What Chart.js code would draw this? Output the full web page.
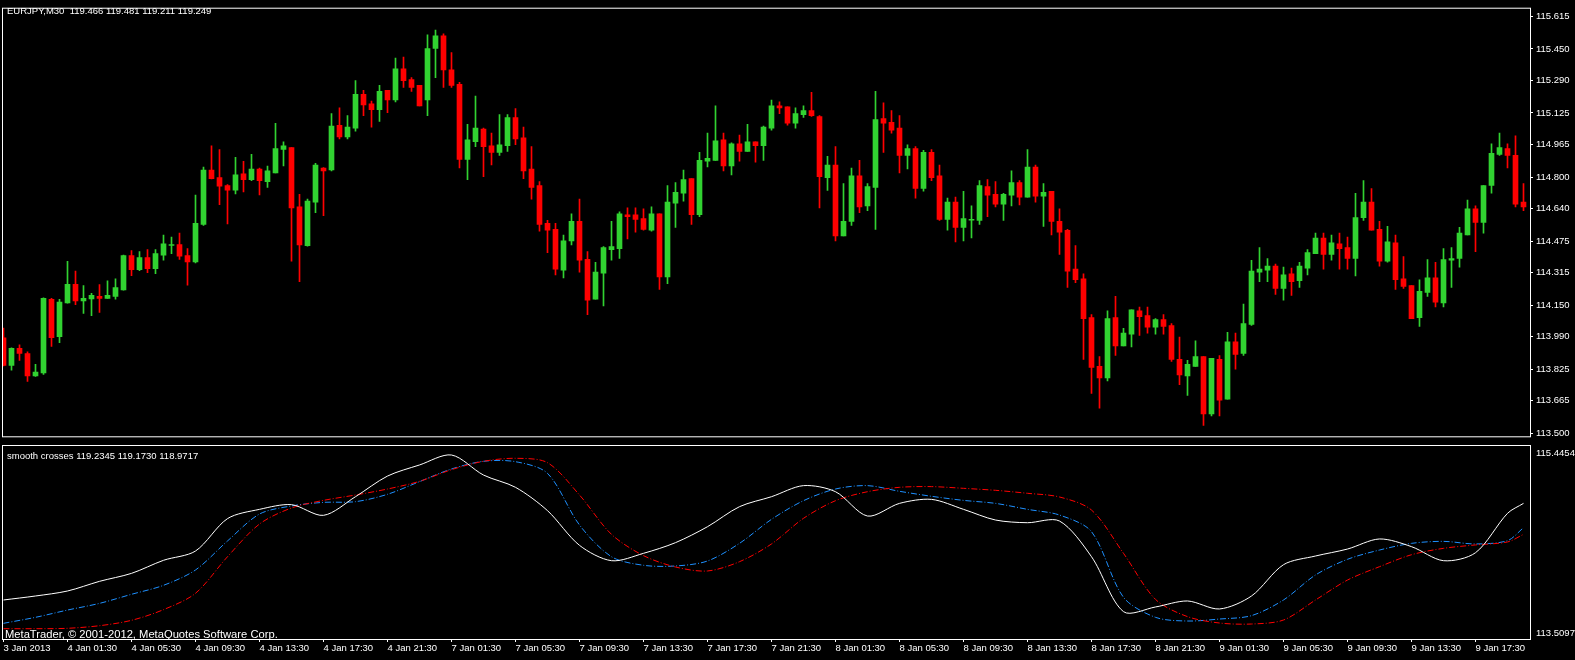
<!DOCTYPE html>
<html>
<head>
<meta charset="utf-8">
<title>EURJPY,M30</title>
<script src="https://cdn.jsdelivr.net/npm/chart.js@4.4.1/dist/chart.umd.min.js"></script>
<style>
    html, body { margin: 0; padding: 0; background: #000; overflow: hidden; }
    #wrap { position: relative; width: 1575px; height: 660px; background: #000; }
    #priceChart { position: absolute; left: 0; top: 0; }
    #indChart { position: absolute; left: 0; top: 444px; }
</style>
</head>
<body>
<div id="wrap">
    <canvas id="priceChart" width="1575" height="445"></canvas>
    <canvas id="indChart" width="1575" height="216"></canvas>
</div>
<script>
// Candles, one per 30 minute bar (bar index = position in array)
const candleOpen = [
    113.985, 113.845, 113.931, 113.904, 113.791, 113.807, 114.180, 113.990, 114.162, 114.256,
    114.172, 114.182, 114.195, 114.185, 114.195, 114.228, 114.402, 114.330, 114.392, 114.335,
    114.404, 114.453, 114.457, 114.402, 114.369, 114.560, 114.836, 114.797, 114.757, 114.734,
    114.816, 114.787, 114.841, 114.777, 114.821, 114.940, 114.949, 114.649, 114.452, 114.673,
    114.846, 114.836, 115.063, 115.004, 115.048, 115.220, 115.171, 115.142, 115.240, 115.191,
    115.349, 115.294, 115.265, 115.191, 115.452, 115.516, 115.344, 115.270, 114.890, 114.979,
    115.043, 114.959, 114.925, 114.959, 115.102, 114.999, 114.841, 114.757, 114.565, 114.535,
    114.328, 114.476, 114.575, 114.383, 114.180, 114.313, 114.432, 114.437, 114.609, 114.609,
    114.590, 114.530, 114.614, 114.294, 114.668, 114.718, 114.792, 114.609, 114.880, 114.885,
    114.989, 114.856, 114.969, 114.930, 114.979, 114.959, 115.048, 115.161, 115.156, 115.073,
    115.117, 115.137, 115.107, 114.797, 114.861, 114.501, 114.575, 114.806, 114.654, 114.747,
    115.097, 115.078, 115.048, 114.910, 114.944, 114.742, 114.925, 114.806, 114.585, 114.673,
    114.545, 114.581, 114.580, 114.752, 114.713, 114.663, 114.708, 114.772, 114.698, 114.851,
    114.703, 114.728, 114.575, 114.530, 114.333, 114.284, 114.087, 113.840, 113.781, 114.087,
    113.944, 114.003, 114.121, 114.097, 114.038, 114.077, 114.047, 113.875, 113.791, 113.840,
    113.890, 113.599, 113.875, 113.673, 113.964, 113.905, 114.052, 114.318, 114.328, 114.348,
    114.235, 114.309, 114.274, 114.338, 114.412, 114.491, 114.407, 114.461, 114.442, 114.387,
    114.594, 114.673, 114.535, 114.373, 114.466, 114.284, 114.249, 114.087, 114.215, 114.289,
    114.161, 114.378, 114.387, 114.506, 114.639, 114.570, 114.757, 114.915, 114.944, 114.910,
    114.673
];
const candleHigh = [
    114.034, 113.934, 113.949, 113.914, 113.850, 114.187, 114.185, 114.180, 114.373, 114.323,
    114.249, 114.210, 114.254, 114.274, 114.284, 114.404, 114.427, 114.422, 114.432, 114.432,
    114.506, 114.496, 114.516, 114.437, 114.708, 114.851, 114.959, 114.940, 114.762, 114.900,
    114.880, 114.915, 114.846, 114.856, 115.073, 114.979, 114.949, 114.713, 114.688, 114.870,
    114.848, 115.122, 115.151, 115.112, 115.289, 115.240, 115.186, 115.265, 115.240, 115.403,
    115.408, 115.304, 115.265, 115.521, 115.546, 115.526, 115.432, 115.280, 115.068, 115.211,
    115.048, 115.023, 115.117, 115.117, 115.147, 115.053, 114.954, 114.777, 114.580, 114.565,
    114.506, 114.614, 114.688, 114.422, 114.368, 114.447, 114.575, 114.624, 114.644, 114.644,
    114.639, 114.649, 114.614, 114.757, 114.772, 114.836, 114.792, 114.925, 115.023, 115.161,
    115.023, 114.974, 115.013, 115.068, 114.979, 115.058, 115.191, 115.181, 115.156, 115.151,
    115.161, 115.230, 115.112, 114.905, 114.954, 114.767, 114.846, 114.885, 114.767, 115.235,
    115.176, 115.137, 115.112, 114.964, 114.954, 114.935, 114.940, 114.861, 114.693, 114.698,
    114.728, 114.654, 114.782, 114.787, 114.777, 114.718, 114.831, 114.782, 114.940, 114.861,
    114.767, 114.728, 114.639, 114.535, 114.452, 114.309, 114.102, 113.890, 114.121, 114.195,
    114.033, 114.126, 114.141, 114.141, 114.082, 114.102, 114.057, 113.988, 113.870, 113.969,
    113.890, 113.880, 113.895, 114.013, 114.008, 114.156, 114.378, 114.442, 114.387, 114.358,
    114.343, 114.338, 114.368, 114.432, 114.516, 114.516, 114.506, 114.516, 114.496, 114.718,
    114.782, 114.742, 114.575, 114.550, 114.506, 114.397, 114.249, 114.279, 114.382, 114.368,
    114.437, 114.442, 114.545, 114.683, 114.654, 114.757, 114.969, 115.023, 114.969, 115.009,
    114.767
];
const candleLow = [
    113.842, 113.821, 113.870, 113.763, 113.789, 113.799, 113.941, 113.960, 114.160, 114.153,
    114.108, 114.097, 114.113, 114.185, 114.180, 114.226, 114.300, 114.325, 114.315, 114.310,
    114.379, 114.412, 114.382, 114.251, 114.364, 114.555, 114.790, 114.660, 114.562, 114.714,
    114.724, 114.782, 114.709, 114.747, 114.821, 114.856, 114.373, 114.269, 114.450, 114.619,
    114.604, 114.831, 114.994, 114.994, 115.033, 115.112, 115.053, 115.082, 115.127, 115.181,
    115.255, 115.235, 115.161, 115.112, 115.304, 115.255, 115.255, 114.846, 114.787, 114.954,
    114.802, 114.861, 114.910, 114.930, 114.964, 114.792, 114.688, 114.525, 114.417, 114.304,
    114.289, 114.456, 114.318, 114.102, 114.180, 114.146, 114.378, 114.387, 114.486, 114.520,
    114.530, 114.525, 114.230, 114.259, 114.545, 114.678, 114.560, 114.599, 114.851, 114.885,
    114.831, 114.811, 114.880, 114.930, 114.875, 114.885, 115.038, 115.122, 115.063, 115.048,
    115.102, 115.107, 114.644, 114.732, 114.476, 114.501, 114.555, 114.619, 114.629, 114.535,
    114.925, 115.023, 114.821, 114.841, 114.693, 114.728, 114.782, 114.580, 114.530, 114.471,
    114.476, 114.491, 114.560, 114.599, 114.649, 114.580, 114.654, 114.659, 114.698, 114.673,
    114.550, 114.506, 114.407, 114.240, 114.264, 113.875, 113.702, 113.628, 113.766, 113.895,
    113.944, 113.939, 113.997, 114.008, 114.003, 114.003, 113.865, 113.747, 113.692, 113.840,
    113.540, 113.589, 113.589, 113.673, 113.826, 113.895, 114.047, 114.269, 114.269, 114.205,
    114.176, 114.200, 114.240, 114.304, 114.412, 114.333, 114.378, 114.333, 114.333, 114.299,
    114.580, 114.530, 114.348, 114.368, 114.230, 114.235, 114.082, 114.043, 114.195, 114.141,
    114.141, 114.240, 114.343, 114.506, 114.422, 114.516, 114.718, 114.910, 114.846, 114.649,
    114.629
];
const candleClose = [
    113.845, 113.931, 113.906, 113.791, 113.811, 114.185, 113.985, 114.166, 114.256, 114.172,
    114.185, 114.200, 114.185, 114.200, 114.239, 114.402, 114.330, 114.392, 114.335, 114.412,
    114.461, 114.457, 114.399, 114.369, 114.565, 114.836, 114.792, 114.754, 114.734, 114.811,
    114.787, 114.841, 114.782, 114.831, 114.944, 114.959, 114.644, 114.456, 114.678, 114.861,
    114.831, 115.058, 115.004, 115.053, 115.220, 115.166, 115.142, 115.235, 115.191, 115.349,
    115.289, 115.255, 115.161, 115.452, 115.516, 115.344, 115.265, 114.890, 114.989, 115.048,
    114.954, 114.925, 114.964, 115.102, 114.994, 114.831, 114.747, 114.560, 114.530, 114.333,
    114.476, 114.575, 114.378, 114.176, 114.318, 114.442, 114.447, 114.614, 114.599, 114.585,
    114.535, 114.614, 114.294, 114.673, 114.723, 114.787, 114.609, 114.885, 114.895, 114.984,
    114.856, 114.969, 114.930, 114.979, 114.959, 115.053, 115.161, 115.151, 115.073, 115.122,
    115.137, 115.112, 114.802, 114.861, 114.501, 114.575, 114.806, 114.649, 114.752, 115.092,
    115.073, 115.038, 114.910, 114.944, 114.742, 114.925, 114.797, 114.585, 114.673, 114.545,
    114.590, 114.585, 114.757, 114.708, 114.663, 114.713, 114.772, 114.698, 114.851, 114.703,
    114.723, 114.575, 114.521, 114.323, 114.279, 114.082, 113.835, 113.781, 114.082, 113.944,
    114.008, 114.126, 114.092, 114.038, 114.077, 114.043, 113.875, 113.796, 113.850, 113.890,
    113.599, 113.880, 113.668, 113.964, 113.900, 114.057, 114.323, 114.333, 114.348, 114.235,
    114.304, 114.269, 114.348, 114.417, 114.491, 114.407, 114.466, 114.437, 114.387, 114.594,
    114.673, 114.530, 114.373, 114.471, 114.279, 114.245, 114.082, 114.220, 114.289, 114.166,
    114.382, 114.387, 114.516, 114.639, 114.570, 114.757, 114.920, 114.949, 114.910, 114.663,
    114.649
];

// Price axis labels (right side of the upper window)
const priceTicks = [115.615, 115.450, 115.290, 115.125, 114.965, 114.800, 114.640,
                    114.475, 114.315, 114.150, 113.990, 113.825, 113.665, 113.500];

// Time axis: bar index of each label and its text
const timeBars = [0, 8, 16, 24, 32, 40, 48, 56, 64, 72, 80, 88,
                  96, 104, 112, 120, 128, 136, 144, 152, 160, 168, 176, 184];
const timeLabels = ['3 Jan 2013', '4 Jan 01:30', '4 Jan 05:30', '4 Jan 09:30', '4 Jan 13:30',
                    '4 Jan 17:30', '4 Jan 21:30', '7 Jan 01:30', '7 Jan 05:30', '7 Jan 09:30',
                    '7 Jan 13:30', '7 Jan 17:30', '7 Jan 21:30', '8 Jan 01:30', '8 Jan 05:30',
                    '8 Jan 09:30', '8 Jan 13:30', '8 Jan 17:30', '8 Jan 21:30', '9 Jan 01:30',
                    '9 Jan 05:30', '9 Jan 09:30', '9 Jan 13:30', '9 Jan 17:30'];

// "smooth crosses" indicator, read every 4 bars
const indBars = [0, 4, 8, 12, 16, 20, 24, 28, 32, 36, 40, 44, 48, 52, 56, 60, 64, 68, 72, 76,
                 80, 84, 88, 92, 96, 100, 104, 108, 112, 116, 120, 124, 128, 132, 136, 140,
                 144, 148, 152, 156, 160, 164, 168, 172, 176, 180, 184, 188, 190];
const indWhite = [113.901, 113.941, 113.991, 114.088, 114.168, 114.299, 114.392, 114.717, 114.810,
                  114.857, 114.750, 114.937, 115.144, 115.255, 115.355, 115.154, 115.031, 114.797,
                  114.449, 114.295, 114.369, 114.476, 114.636, 114.837, 114.937, 115.048, 114.987,
                  114.743, 114.870, 114.910, 114.810, 114.703, 114.676, 114.693, 114.335, 113.784,
                  113.831, 113.891, 113.811, 113.941, 114.255, 114.342, 114.412, 114.513, 114.436,
                  114.295, 114.375, 114.770, 114.870];
const indBlue = [113.667, 113.727, 113.800, 113.867, 113.958, 114.048, 114.202, 114.493, 114.763,
                 114.844, 114.880, 114.887, 114.961, 115.088, 115.215, 115.292, 115.288, 115.171,
                 114.653, 114.335, 114.249, 114.242, 114.292, 114.469, 114.710, 114.897, 115.014,
                 115.048, 114.991, 114.941, 114.900, 114.870, 114.810, 114.753, 114.586, 113.928,
                 113.727, 113.690, 113.710, 113.744, 113.901, 114.152, 114.309, 114.402, 114.469,
                 114.489, 114.463, 114.496, 114.626];
const indRed = [113.613, 113.613, 113.617, 113.643, 113.697, 113.804, 113.968, 114.335, 114.663,
                114.824, 114.900, 114.954, 115.014, 115.091, 115.208, 115.292, 115.322, 115.278,
                114.954, 114.559, 114.346, 114.232, 114.192, 114.285, 114.463, 114.720, 114.897,
                114.987, 115.031, 115.038, 115.021, 115.001, 114.971, 114.934, 114.803, 114.369,
                113.907, 113.734, 113.670, 113.660, 113.700, 113.901, 114.101, 114.235, 114.355,
                114.419, 114.453, 114.483, 114.559];
const indMin = 113.5097;
const indMax = 115.4454;

const FONT = '"Liberation Sans", Arial, sans-serif';
const BULL = '#31d231';
const BEAR = '#ff0000';
const X_MIN = -0.0625;
const X_MAX = 190.8125;

// Frame round the chart area plus free text
const panelFrame = {
    id: 'panelFrame',
    afterDraw(chart, args, opts) {
        const a = chart.chartArea;
        const ctx = chart.ctx;
        ctx.save();
        ctx.strokeStyle = '#ffffff';
        ctx.lineWidth = 1;
        ctx.strokeRect(a.left - 0.5, a.top - 0.5, a.right - a.left + 1, a.bottom - a.top + 1);
        ctx.fillStyle = '#ffffff';
        ctx.textBaseline = 'middle';
        (opts.texts || []).forEach(t => {
            ctx.font = t.size + 'px ' + FONT;
            ctx.textAlign = 'left';
            ctx.fillText(t.text, t.x, t.y);
        });
        ctx.restore();
    }
};

// Upper window: candles
const candleColors = candleOpen.map((o, i) => candleClose[i] >= o ? BULL : BEAR);
const bodies = candleOpen.map((o, i) => ({ x: i, y: [o, candleClose[i]] }));
const wicks = candleLow.map((l, i) => ({ x: i, y: [l, candleHigh[i]] }));

new Chart(document.getElementById('priceChart'), {
    type: 'bar',
    data: {
        datasets: [
            { data: bodies, backgroundColor: candleColors, barThickness: 5, minBarLength: 1, grouped: false },
            { data: wicks, backgroundColor: candleColors, barThickness: 1, grouped: false }
        ]
    },
    options: {
        responsive: false,
        animation: false,
        devicePixelRatio: 1,
        layout: { padding: { left: 3, top: 3, right: 0, bottom: 2 } },
        plugins: {
            legend: { display: false },
            tooltip: { enabled: false },
            panelFrame: {
                texts: [{ text: 'EURJPY,M30  119.466 119.481 119.211 119.249', x: 7, y: 11, size: 9.5 }]
            }
        },
        scales: {
            x: { type: 'linear', display: false, min: X_MIN, max: X_MAX, offset: false },
            y: {
                position: 'right',
                min: 113.485,
                max: 115.654,
                afterFit: s => { s.width = 45; },
                afterBuildTicks: s => { s.ticks = priceTicks.map(v => ({ value: v })); },
                ticks: { color: '#ffffff', font: { family: FONT, size: 9.5 }, padding: 3, callback: v => v.toFixed(3) },
                grid: { drawOnChartArea: false, color: '#ffffff', tickLength: 3 },
                border: { display: false }
            }
        }
    },
    plugins: [panelFrame]
});

// Lower window: indicator lines
function toPoints(values) {
    return values.map((v, i) => ({ x: indBars[i], y: v }));
}

new Chart(document.getElementById('indChart'), {
    type: 'line',
    data: {
        datasets: [
            { data: toPoints(indWhite), borderColor: '#ffffff', borderWidth: 1, pointRadius: 0, tension: 0.3 },
            { data: toPoints(indRed), borderColor: '#ff0000', borderWidth: 1, pointRadius: 0, tension: 0.3, borderDash: [6, 2, 1, 2] },
            { data: toPoints(indBlue), borderColor: '#1e90ff', borderWidth: 1, pointRadius: 0, tension: 0.3, borderDash: [6, 2, 1, 2] }
        ]
    },
    options: {
        responsive: false,
        animation: false,
        devicePixelRatio: 1,
        layout: { padding: { left: 3, top: 2, right: 0, bottom: 0 } },
        plugins: {
            legend: { display: false },
            tooltip: { enabled: false },
            panelFrame: {
                texts: [
                    { text: 'smooth crosses 119.2345 119.1730 118.9717', x: 7, y: 12, size: 9.5 },
                    { text: indMax.toFixed(4), x: 1536, y: 9.5, size: 9.5 },
                    { text: indMin.toFixed(4), x: 1536, y: 189, size: 9.5 },
                    { text: 'MetaTrader, \u00a9 2001-2012, MetaQuotes Software Corp.', x: 5, y: 191, size: 11.2 }
                ]
            }
        },
        scales: {
            x: {
                type: 'linear',
                min: X_MIN,
                max: X_MAX,
                afterFit: s => { s.height = 21; },
                afterBuildTicks: s => { s.ticks = timeBars.map(v => ({ value: v })); },
                ticks: {
                    color: '#ffffff',
                    font: { family: FONT, size: 9.5 },
                    padding: 1,
                    align: 'start',
                    maxRotation: 0,
                    autoSkip: false,
                    callback: v => timeLabels[timeBars.indexOf(v)]
                },
                grid: { drawOnChartArea: false, color: '#ffffff', tickLength: 3, offset: false },
                border: { display: false }
            },
            y: {
                position: 'right',
                min: indMin,
                max: indMax,
                afterFit: s => { s.width = 45; },
                ticks: { display: false },
                grid: { display: false },
                border: { display: false }
            }
        }
    },
    plugins: [panelFrame]
});
</script>
</body>
</html>
